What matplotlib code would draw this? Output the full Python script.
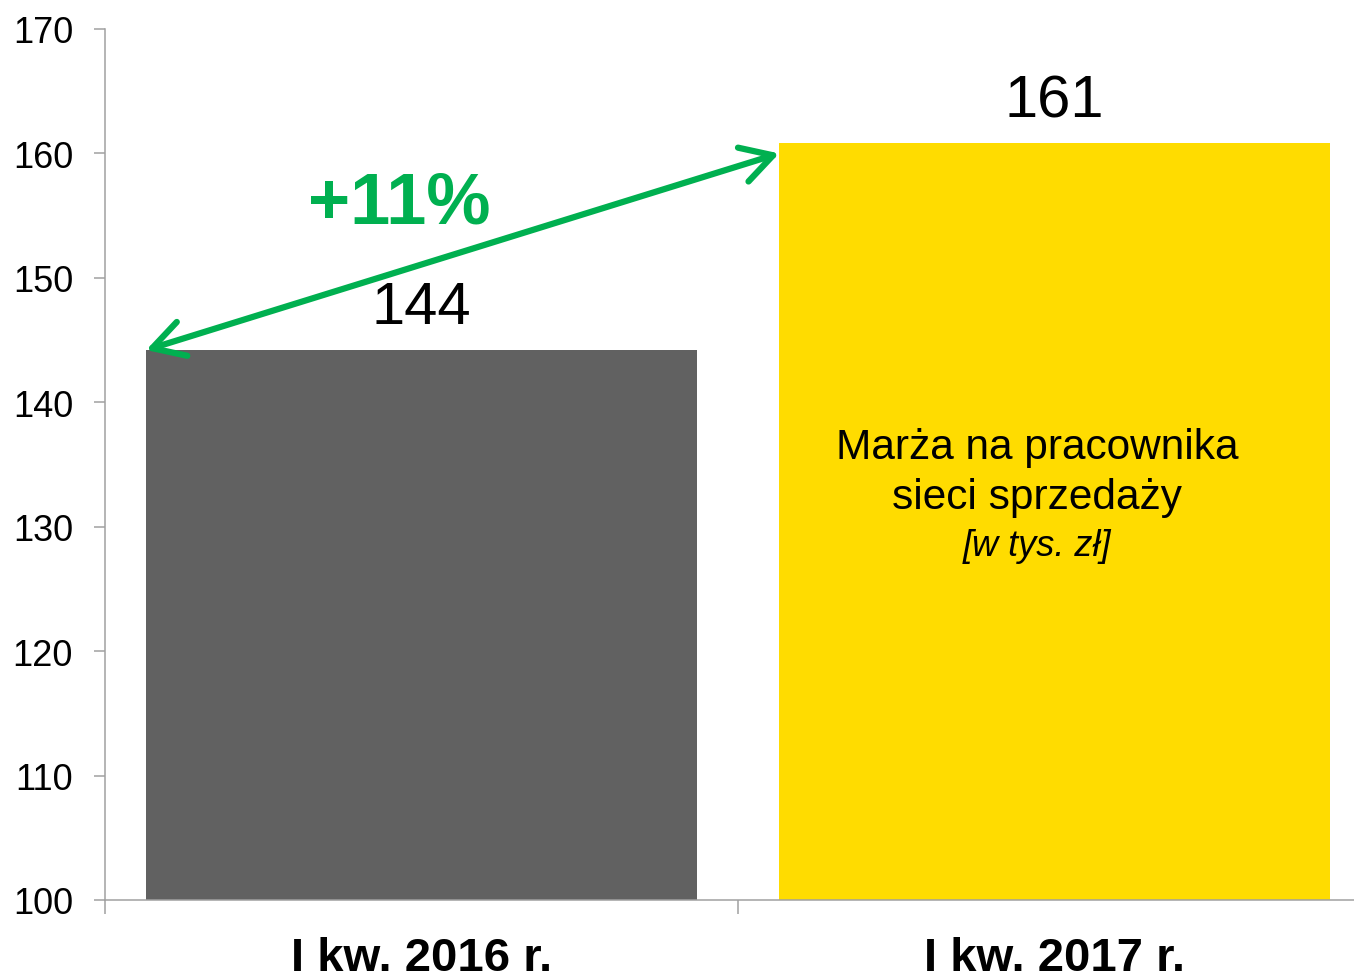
import matplotlib.pyplot as plt
from matplotlib.ticker import FixedLocator

# Data
categories = ['I kw. 2016 r.', 'I kw. 2017 r.']
values = [144.2, 160.8]
value_labels = ['144', '161']
bar_colors = ['#616161', '#FFDC00']
y_ticks = [100, 110, 120, 130, 140, 150, 160, 170]
change_label = '+11%'
arrow_end_value = 160.0

plt.rcParams['font.family'] = ['Liberation Sans', 'DejaVu Sans']

fig = plt.figure(figsize=(13.54, 9.78), dpi=100)
fig.patch.set_facecolor('white')
ax = fig.add_axes([105 / 1354, 77 / 978, 1266 / 1354, 871 / 978])

axis_color = '#A0A0A0'
green = '#00B050'
bar_width = 0.87

x = list(range(len(categories)))
ax.bar(x, values, width=bar_width, color=bar_colors, zorder=2)

ax.set_xlim(-0.5, len(categories) - 0.5)
ax.set_ylim(100, 170)

# spines
for side in ['top', 'right']:
    ax.spines[side].set_visible(False)
for side in ['left', 'bottom']:
    ax.spines[side].set_color(axis_color)
    ax.spines[side].set_linewidth(1.1)

# y ticks
ax.set_yticks(y_ticks)
ax.tick_params(axis='y', direction='out', length=8, width=1.1, color=axis_color,
               labelsize=26, pad=15)

# x ticks: boundary marks as major, labels as minor
ax.xaxis.set_major_locator(FixedLocator([-0.5, 0.5, 1.5]))
ax.xaxis.set_major_formatter(plt.NullFormatter())
ax.tick_params(axis='x', which='major', direction='out', length=10, width=1.1,
               color=axis_color)
ax.xaxis.set_minor_locator(FixedLocator(x))
ax.set_xticklabels(categories, minor=True)
ax.tick_params(axis='x', which='minor', length=0, labelsize=34, pad=26)
for lbl in ax.get_xticklabels(minor=True):
    lbl.set_fontweight('bold')

# value labels above bars
for xi, v, txt in zip(x, values, value_labels):
    ax.text(xi, v + 1.2, txt, ha='center', va='bottom', fontsize=43, color='black')

# double-headed growth arrow between bar corners
ax.annotate('', xy=(x[1] - bar_width / 2, arrow_end_value),
            xytext=(x[0] - bar_width / 2, values[0]),
            arrowprops=dict(arrowstyle='<->,head_length=1.5,head_width=0.85',
                            color=green, lw=4.5, mutation_scale=15,
                            shrinkA=0, shrinkB=0, capstyle='round',
                            joinstyle='round'),
            zorder=4)
ax.text(-0.035, 156.0, change_label, ha='center', va='center', fontsize=52,
        fontweight='bold', color=green, zorder=5)

# description inside the yellow bar
ax.text(0.972, 134.4, 'Marża na pracownika\nsieci sprzedaży', ha='center', va='center',
        fontsize=30.5, color='black', linespacing=1.3, zorder=3)
ax.text(0.972, 128.5, '[w tys. zł]', ha='center', va='center', fontsize=26,
        fontstyle='italic', color='black', zorder=3)

fig.savefig('out.png', dpi=100, facecolor='white')
